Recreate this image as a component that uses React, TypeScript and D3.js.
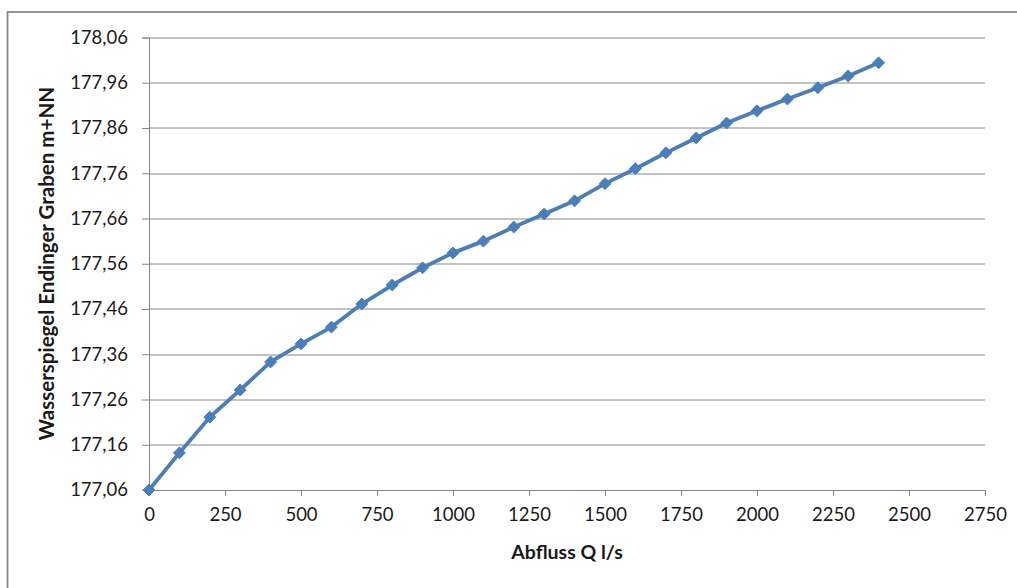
import { useEffect, useRef } from "react";
import * as d3 from "d3";

const flows = [0, 100, 200, 300, 400, 500, 600, 700, 800, 900, 1000, 1100, 1200, 1300, 1400, 1500, 1600, 1700, 1800, 1900, 2000, 2100, 2200, 2300, 2400];
const levels = [
  177.06, 177.142, 177.221, 177.281, 177.343, 177.383, 177.42, 177.471, 177.513, 177.551,
  177.584, 177.61, 177.641, 177.67, 177.699, 177.737, 177.77, 177.805, 177.838, 177.871,
  177.898, 177.924, 177.949, 177.975, 178.004,
];
const xTicks = [0, 250, 500, 750, 1000, 1250, 1500, 1750, 2000, 2250, 2500, 2750];
const yTicks = [177.06, 177.16, 177.26, 177.36, 177.46, 177.56, 177.66, 177.76, 177.86, 177.96, 178.06];

export default function App() {
  const svgRef = useRef<SVGSVGElement>(null);

  useEffect(() => {
    if (!svgRef.current) return;
    const svg = d3.select(svgRef.current);
    svg.selectAll("*").remove();

    const width = 1017;
    const height = 588;
    const margin = { top: 37.5, right: 32, bottom: 98, left: 149 };
    const W = width - margin.left - margin.right;
    const H = height - margin.top - margin.bottom;

    const gridColor = "#868686";
    const lineColor = "#4a7ebb";
    const textColor = "#1a1a1a";
    const font = "Lato, 'Open Sans', sans-serif";

    svg.append("rect").attr("width", width).attr("height", height).attr("fill", "#fff");

    // Outer frame (cut off at right and bottom)
    svg
      .append("rect")
      .attr("x", 7.5)
      .attr("y", 12)
      .attr("width", width + 20)
      .attr("height", height + 20)
      .attr("fill", "none")
      .attr("stroke", "#8a8a8a")
      .attr("stroke-width", 1.8);

    const g = svg.append("g").attr("transform", `translate(${margin.left},${margin.top})`);

    const x = d3.scaleLinear().domain([0, 2750]).range([0, W]);
    const y = d3.scaleLinear().domain([177.06, 178.06]).range([H, 0]);

    // Grid lines
    g.append("g")
      .selectAll("line")
      .data(yTicks.slice(1))
      .join("line")
      .attr("x1", 0)
      .attr("x2", W)
      .attr("y1", (d) => Math.round(y(d)) + 0.5)
      .attr("y2", (d) => Math.round(y(d)) + 0.5)
      .attr("stroke", gridColor)
      .attr("stroke-width", 1);

    const fmt = (d: number) => d.toFixed(2).replace(".", ",");

    // Y axis
    const ya = g
      .append("g")
      .call(d3.axisLeft(y).tickValues(yTicks).tickFormat((d) => fmt(Number(d))).tickSize(7).tickPadding(14));
    ya.selectAll("line,path").attr("stroke", gridColor);
    ya.selectAll(".tick text")
      .attr("fill", textColor)
      .attr("font-size", 18.5)
      .attr("font-family", font);

    // X axis
    const xa = g
      .append("g")
      .attr("transform", `translate(0,${H})`)
      .call(d3.axisBottom(x).tickValues(xTicks).tickFormat((d) => String(d)).tickSizeInner(6).tickSizeOuter(0).tickPadding(12));
    xa.selectAll("line,path").attr("stroke", gridColor);
    xa.selectAll(".tick text")
      .attr("fill", textColor)
      .attr("font-size", 18.5)
      .attr("font-family", font);

    // Line
    const line = d3
      .line<number>()
      .x((_, i) => x(flows[i]))
      .y((d) => y(d));

    g.append("path")
      .datum(levels)
      .attr("fill", "none")
      .attr("stroke", lineColor)
      .attr("stroke-width", 3.8)
      .attr("stroke-linejoin", "round")
      .attr("d", line);

    // Diamond markers
    const sym = d3.symbol().type(d3.symbolDiamond2).size(90);
    g.selectAll(".dot")
      .data(levels)
      .join("path")
      .attr("transform", (d, i) => `translate(${x(flows[i])},${y(d)})`)
      .attr("d", sym)
      .attr("fill", lineColor)
      .attr("stroke", lineColor)
      .attr("stroke-width", 1);

    // Axis titles
    svg
      .append("text")
      .attr("x", margin.left + W / 2)
      .attr("y", 559)
      .attr("text-anchor", "middle")
      .attr("font-size", 19.5)
      .attr("font-weight", "bold")
      .attr("font-family", font)
      .attr("fill", textColor)
      .text("Abfluss Q l/s");

    svg
      .append("text")
      .attr("transform", `translate(54,${margin.top + H / 2}) rotate(-90)`)
      .attr("text-anchor", "middle")
      .attr("font-size", 20.5)
      .attr("font-weight", "bold")
      .attr("font-family", font)
      .attr("fill", textColor)
      .text("Wasserspiegel Endinger Graben m+NN");
  }, []);

  return (
    <div style={{ position: "fixed", left: 0, top: 0 }}>
      <svg ref={svgRef} width={1017} height={588} style={{ display: "block" }} />
    </div>
  );
}
